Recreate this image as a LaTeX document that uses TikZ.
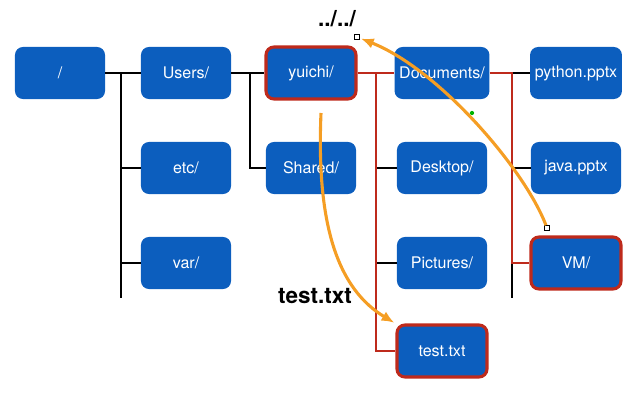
\documentclass[tikz,border=0pt]{standalone}
\usepackage{fontspec}
\setmainfont{TeX Gyre Heros}
\usetikzlibrary{arrows.meta}

\definecolor{dirblue}{RGB}{12,94,190}
\definecolor{pathred}{RGB}{190,42,28}
\definecolor{jumporange}{RGB}{245,158,36}

\begin{document}
\begin{tikzpicture}[x=0.025cm, y=-0.025cm, >={Latex[length=9pt,width=7.5pt]},
    dir/.style={fill=dirblue, rounded corners=0.2cm, minimum width=2.25cm,
        minimum height=1.3cm, text=white, font=\fontsize{11.4}{13}\selectfont},
    onpath/.style={dir, draw=pathred, line width=2.2pt},
    tree/.style={line width=1.4pt, black},
    redtree/.style={line width=1.7pt, pathred},
    jump/.style={->, line width=2.2pt, jumporange, shorten >=1pt},
    handle/.style={draw=black, fill=white, line width=0.4pt, minimum size=3.5pt, inner sep=0pt},
    lbl/.style={font=\bfseries\fontsize{16}{18}\selectfont}]
    \useasboundingbox (0,0) rectangle (640,400);

    % first column
    \node[dir] (root) at (60,73) {/};

    % second column
    \node[dir] (users) at (186,73) {Users/};
    \node[dir] (etc) at (186,168) {etc/};
    \node[dir] (var) at (186,263) {var/};

    % third column
    \node[onpath] (yuichi) at (311,73) {yuichi/};
    \node[dir] (shared) at (311,168) {Shared/};

    % fourth column
    \node[dir] (docs) at (442,73) {Documents/};
    \node[dir] (desktop) at (442,168) {Desktop/};
    \node[dir] (pictures) at (442,263) {Pictures/};
    \node[onpath] (testtxt) at (442,351) {test.txt};

    % fifth column
    \node[dir] (python) at (576,73) {python.pptx};
    \node[dir] (java) at (576,168) {java.pptx};
    \node[onpath] (vm) at (576,263) {VM/};

    \coordinate (rootbus) at (121,298);
    \coordinate (usersbus) at (250,168);
    \coordinate (yuichibus) at (376,351);
    \coordinate (docsbus) at (512,298);

    \draw[tree] (root.east) -- (users.west);
    \draw[tree] (rootbus |- root.east) -- (rootbus);
    \draw[tree] (rootbus |- etc.west) -- (etc.west);
    \draw[tree] (rootbus |- var.west) -- (var.west);

    \draw[tree] (users.east) -- (yuichi.west);
    \draw[tree] (usersbus |- users.east) -- (usersbus) -- (shared.west);

    \draw[tree] (yuichibus |- desktop.west) -- (desktop.west);
    \draw[tree] (yuichibus |- pictures.west) -- (pictures.west);
    \draw[redtree] (yuichi.east) -- (docs.west);
    \draw[redtree] (yuichibus |- yuichi.east) -- (yuichibus) -- (testtxt.west);

    \draw[tree] (docsbus |- python.west) -- (python.west);
    \draw[tree] (docsbus |- java.west) -- (java.west);
    \draw[tree] (docsbus |- vm.west) -- (docsbus);
    \draw[redtree] (docs.east) -- (docsbus |- docs.east) -- (docsbus |- vm.west) -- (vm.west);

    % relative moves
    \node[lbl] (uplabel) at (337,19) {../../};
    \node[lbl] (testlabel) at (315,296) {test.txt};

    \coordinate (down0) at (321,113);
    \draw[jump] (down0) .. controls (316,230) and (340,290) .. (testtxt.north west);

    \node[handle] (up0) at (547,228) {};
    \node[handle] (up1) at (357,37) {};
    \draw[jump] (up0) .. controls (525,170) and (440,70) .. (up1);
    \fill[green!70!black] (472,113) circle (1.5pt);
\end{tikzpicture}
\end{document}
